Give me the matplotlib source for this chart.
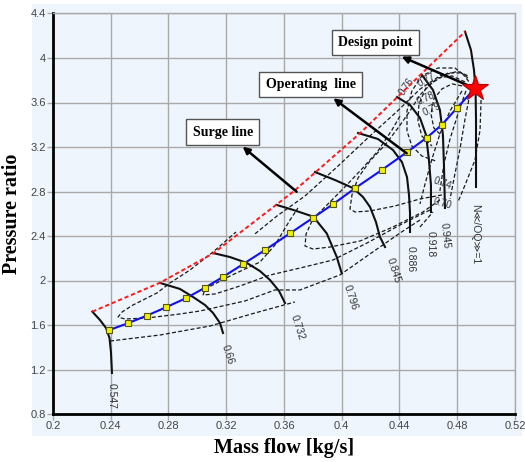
import matplotlib
matplotlib.use("Agg")
import matplotlib.pyplot as plt
from matplotlib.patches import Rectangle

# ---------------- data ----------------
x_ticks = [0.2, 0.24, 0.28, 0.32, 0.36, 0.4, 0.44, 0.48, 0.52]
x_tick_labels = ["0.2", "0.24", "0.28", "0.32", "0.36", "0.4", "0.44", "0.48", "0.52"]
y_ticks = [0.8, 1.2, 1.6, 2.0, 2.4, 2.8, 3.2, 3.6, 4.0, 4.4]
y_tick_labels = ["0.8", "1.2", "1.6", "2", "2.4", "2.8", "3.2", "3.6", "4", "4.4"]

surge_x = [0.2273, 0.2742, 0.3111, 0.3665, 0.4127, 0.4854]
surge_y = [1.720, 1.980, 2.245, 2.799, 3.324, 4.237]

op_x = [0.2391, 0.2518, 0.2650, 0.2783, 0.2920, 0.3053, 0.3180, 0.3318, 0.3469,
        0.3642, 0.3803, 0.3942, 0.4092, 0.4277, 0.4450, 0.4589, 0.4692, 0.4800]
op_y = [1.555, 1.615, 1.684, 1.759, 1.840, 1.935, 2.034, 2.148, 2.274,
        2.424, 2.565, 2.688, 2.829, 2.993, 3.152, 3.284, 3.398, 3.553]
design_x = 0.4923
design_y = 3.728

speed_names = ["0.547", "0.66", "0.732", "0.796", "0.845", "0.886", "0.918", "0.945", "N\u226a/OQ\u226b=1"]
speed_x = [
    [0.2273, 0.2326, 0.2368, 0.2392, 0.2402, 0.2409],
    [0.2742, 0.2880, 0.2970, 0.3053, 0.3109, 0.3157, 0.3178],
    [0.3109, 0.3226, 0.3344, 0.3434, 0.3503, 0.3566, 0.3607],
    [0.3550, 0.3665, 0.3803, 0.3896, 0.3965, 0.4000],
    [0.3815, 0.3954, 0.4078, 0.4147, 0.4196, 0.4237, 0.4265, 0.4300],
    [0.4113, 0.4251, 0.4355, 0.4417, 0.4452, 0.4466, 0.4473, 0.4473],
    [0.4383, 0.4473, 0.4542, 0.4584, 0.4604, 0.4618, 0.4618],
    [0.4556, 0.4632, 0.4680, 0.4701, 0.4708, 0.4715],
    [0.4854, 0.4895, 0.4916, 0.4927, 0.4930, 0.4930],
]
speed_y = [
    [1.720, 1.645, 1.573, 1.483, 1.357, 1.169],
    [1.978, 1.924, 1.852, 1.780, 1.708, 1.618, 1.528],
    [2.247, 2.211, 2.157, 2.085, 2.005, 1.906, 1.798],
    [2.679, 2.634, 2.574, 2.424, 2.214, 2.065],
    [2.975, 2.903, 2.831, 2.751, 2.661, 2.526, 2.391, 2.301],
    [3.326, 3.272, 3.173, 3.065, 2.930, 2.769, 2.607, 2.436],
    [3.649, 3.578, 3.461, 3.308, 3.083, 2.858, 2.616],
    [3.847, 3.712, 3.533, 3.308, 3.038, 2.652],
    [4.237, 4.072, 3.892, 3.712, 3.443, 2.841],
]
speed_label_x = [0.2409, 0.3210, 0.3697, 0.4060, 0.4357, 0.4475, 0.4615, 0.4712, 0.4925]
speed_label_y = [0.960, 1.330, 1.580, 1.850, 2.090, 2.190, 2.330, 2.400, 2.420]
speed_label_rot = [-90, -72, -72, -72, -72, -90, -90, -84, -90]

# dashed efficiency contours
eff_x = [
    [0.2396, 0.2742, 0.3088, 0.3399, 0.3676],
    [0.4542, 0.4404, 0.4175, 0.3988, 0.3711, 0.3538, 0.3330, 0.3019, 0.2880, 0.2652,
     0.2499, 0.2451, 0.2479, 0.2555, 0.2721, 0.2811, 0.2949, 0.3109, 0.3268],
    [0.4611, 0.4404, 0.4175, 0.3939, 0.3711, 0.3503, 0.3296, 0.3123, 0.3040,
     0.3054, 0.3226, 0.3434, 0.3538, 0.3642, 0.3697],
    [0.4680, 0.4562, 0.4355, 0.4127, 0.3919, 0.3801, 0.3746, 0.3753, 0.3801,
     0.3898, 0.4022, 0.4140, 0.4251, 0.4348, 0.4404],
    [0.4694, 0.4542, 0.4369, 0.4196, 0.4092, 0.4057, 0.4071, 0.4113, 0.4196,
     0.4300, 0.4390, 0.4473, 0.4542, 0.4625, 0.4736, 0.4833, 0.4888],
    [0.3400, 0.3552, 0.3746, 0.3967, 0.4196, 0.4383, 0.4542, 0.4680, 0.4805, 0.4874],
    [0.4874, 0.4784, 0.4666, 0.4555, 0.4486, 0.4452, 0.4452, 0.4486, 0.4555, 0.4652],
    [0.4854, 0.4764, 0.4666, 0.4583, 0.4535, 0.4528, 0.4555, 0.4625],
    [0.4833, 0.4764, 0.4694, 0.4638, 0.4618, 0.4638, 0.4694],
    [0.4888, 0.4854, 0.4819, 0.4784, 0.4750],
    [0.4860, 0.4805, 0.4750, 0.4708, 0.4680],
    [0.4833, 0.4750, 0.4680, 0.4625, 0.4577, 0.4542],
    [0.4965, 0.4958, 0.4923, 0.4854, 0.4805],
    [0.4542, 0.4632],
]
eff_y = [
    [1.456, 1.510, 1.591, 1.708, 1.807],
    [2.544, 2.427, 2.220, 2.050, 1.915, 1.915, 1.816, 1.726, 1.699, 1.663,
     1.654, 1.672, 1.717, 1.780, 1.888, 1.978, 2.094, 2.256, 2.436],
    [2.634, 2.499, 2.337, 2.184, 2.112, 2.049, 1.951, 1.879, 1.870,
     1.924, 2.040, 2.166, 2.319, 2.544, 2.652],
    [2.724, 2.616, 2.481, 2.355, 2.301, 2.283, 2.310, 2.418, 2.553,
     2.679, 2.841, 3.003, 3.164, 3.353, 3.479],
    [2.769, 2.733, 2.670, 2.625, 2.616, 2.643, 2.769, 2.922, 3.075,
     3.218, 3.371, 3.524, 3.668, 3.776, 3.866, 3.866, 3.776],
    [2.420, 2.580, 2.760, 3.020, 3.300, 3.520, 3.720, 3.840, 3.880, 3.840],
    [3.821, 3.910, 3.910, 3.839, 3.704, 3.524, 3.344, 3.209, 3.119, 3.074],
    [3.785, 3.839, 3.821, 3.731, 3.587, 3.434, 3.299, 3.209],
    [3.749, 3.767, 3.722, 3.632, 3.497, 3.371, 3.299],
    [3.677, 3.452, 3.182, 2.958, 2.733],
    [3.704, 3.497, 3.272, 3.048, 2.805],
    [3.704, 3.524, 3.317, 3.092, 2.868, 2.688],
    [3.622, 3.353, 3.083, 2.858, 2.706],
    [2.481, 2.616],
]
eff_label_text = ["0.76", "0.77", "0.78", "0.79", "0.74", "0.70"]
eff_label_x = [0.4450, 0.4590, 0.4580, 0.4625, 0.4695, 0.4700]
eff_label_y = [3.740, 3.800, 3.640, 3.540, 2.870, 2.690]
eff_label_rot = [55, 28, 25, 25, -20, -15]

notes = ["Design point", "Operating  line", "Surge line"]
note_box_x = [0.4234, 0.3785, 0.3177]
note_box_y = [4.139, 3.760, 3.333]
note_head_x = [0.4415, 0.3942, 0.3314]
note_head_y = [4.012, 3.638, 3.203]
note_tail_x = [0.4890, 0.4450, 0.3688]
note_tail_y = [3.745, 3.143, 2.798]

# ---------------- figure ----------------
fig = plt.figure(figsize=(5.25, 4.62), dpi=100)
fig.patches.append(Rectangle((32 / 525, 1 - 436 / 462), (522 - 32) / 525, (436 - 4) / 462,
                             transform=fig.transFigure, facecolor="#EEF5FD",
                             edgecolor="none", zorder=-5))
ax = fig.add_axes([52.9 / 525, 1 - 414 / 462, (515 - 52.9) / 525, (414 - 13.5) / 462])
ax.set_zorder(2)
ax.set_facecolor("#EEF5FD")
ax.set_xlim(0.2, 0.52)
ax.set_ylim(0.8, 4.4)
ax.set_xticks(x_ticks)
ax.set_xticklabels(x_tick_labels)
ax.set_yticks(y_ticks)
ax.set_yticklabels(y_tick_labels)
ax.grid(True, color="#A9A9A9", lw=1.0)
ax.set_axisbelow(True)
for s in ["top", "right"]:
    ax.spines[s].set_color("#A9A9A9")
    ax.spines[s].set_linewidth(1.0)
for s in ["left", "bottom"]:
    ax.spines[s].set_color("black")
    ax.spines[s].set_linewidth(2.0)
ax.tick_params(axis="both", colors="#A9A9A9", labelcolor="#444444", length=4,
               width=1, labelsize=8, pad=1)
for lab in ax.get_xticklabels() + ax.get_yticklabels():
    lab.set_family("Liberation Sans")

serif_bold = dict(family="Liberation Serif", weight="bold")
ax.set_xlabel("Mass flow [kg/s]", fontsize=14.5, labelpad=5, **serif_bold)
ax.set_ylabel("Pressure ratio", fontsize=14.5, labelpad=6, **serif_bold)

# efficiency contours
for xs, ys in zip(eff_x, eff_y):
    ax.plot(xs, ys, color="#1a1a1a", lw=0.9, ls=(0, (3.2, 1.8)), zorder=3)

# speed lines
for xs, ys in zip(speed_x, speed_y):
    ax.plot(xs, ys, color="#111111", lw=1.5, zorder=4)
for t, lx, ly, r in zip(speed_names, speed_label_x, speed_label_y, speed_label_rot):
    ax.text(lx, ly, t, rotation=r, fontsize=7.5, color="#333333", ha="center", va="center",
            family=["Liberation Sans", "DejaVu Sans"], zorder=5)
for t, lx, ly, r in zip(eff_label_text, eff_label_x, eff_label_y, eff_label_rot):
    ax.text(lx, ly, t, rotation=r, fontsize=7, color="#333333", ha="center", va="center",
            family="Liberation Sans", zorder=5)

# surge line
ax.plot(surge_x, surge_y, color="#FF1A1A", lw=1.4, ls=(0, (2.2, 1.4)), zorder=5)

# operating line
ax.plot(op_x + [design_x], op_y + [design_y], color="#1010F0", lw=1.5, zorder=6)
ax.plot(op_x, op_y, ls="none", marker="s", ms=4.5, mfc="#F0F000", mec="#555500",
        mew=0.8, zorder=7)
ax.plot([design_x], [design_y], ls="none", marker="*", ms=19, mfc="#FF0000",
        mec="#B00000", mew=0.8, zorder=9, clip_on=False)

# annotations
for t, bx, by, hx, hy, tx, ty in zip(notes, note_box_x, note_box_y, note_head_x,
                                     note_head_y, note_tail_x, note_tail_y):
    ax.annotate("", xy=(hx, hy), xytext=(tx, ty),
                arrowprops=dict(arrowstyle="-|>", color="black", lw=1.8,
                                mutation_scale=10, shrinkA=0, shrinkB=0), zorder=8)
    ax.text(bx, by, t, fontsize=10, ha="center", va="center", zorder=10,
            bbox=dict(boxstyle="square,pad=0.45", fc="white", ec="#555555", lw=1.0),
            **serif_bold)

fig.savefig("out.png", dpi=100)
